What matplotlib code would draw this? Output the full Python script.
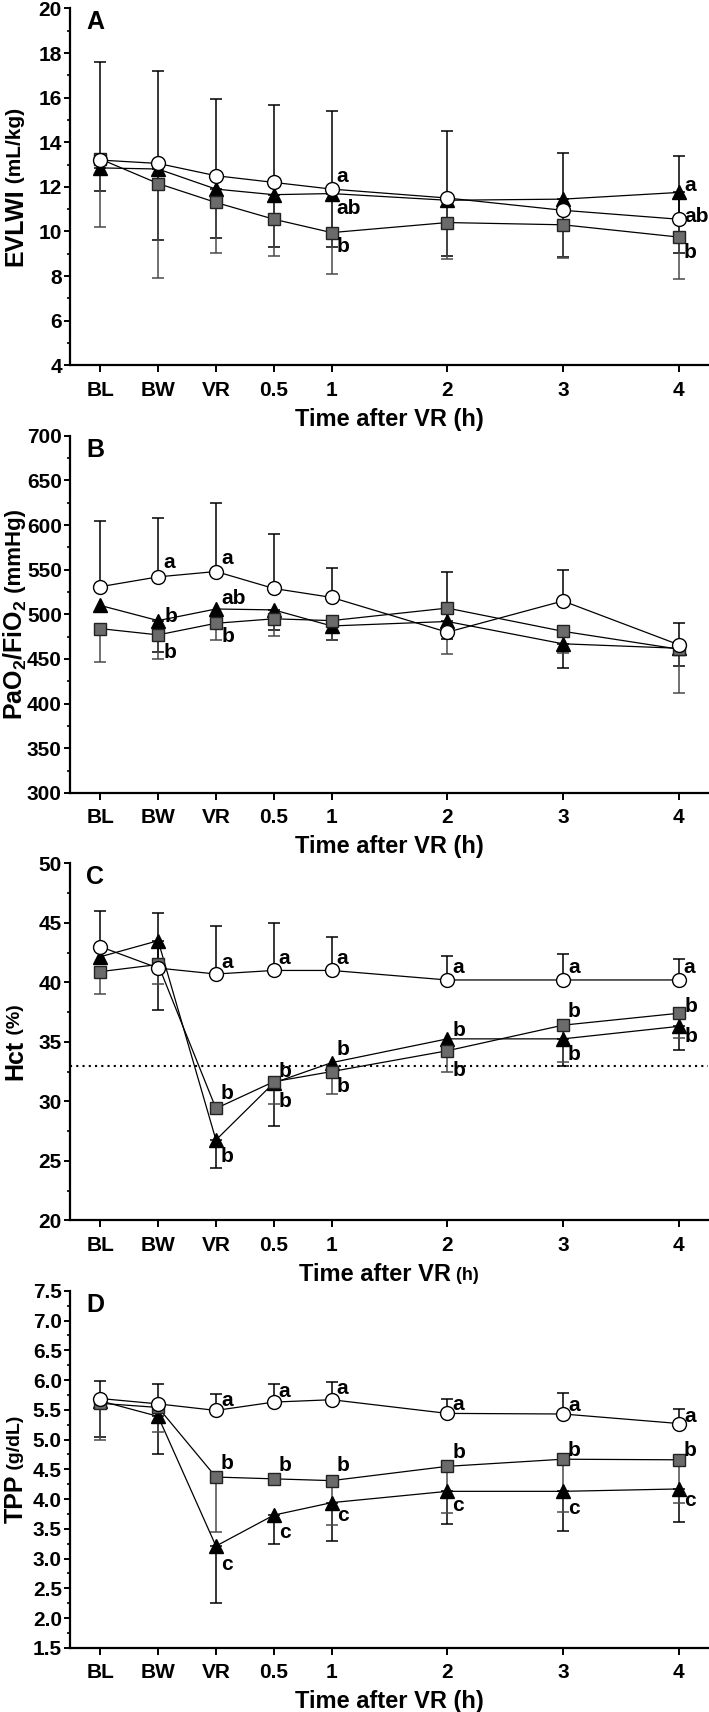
import matplotlib
matplotlib.use('Agg')
import matplotlib.pyplot as plt
import numpy as np
from matplotlib.ticker import MultipleLocator, FormatStrFormatter

nan = np.nan

# ---------------- data ----------------
time_labels = ['BL', 'BW', 'VR', '0.5', '1', '2', '3', '4']
time_pos = [0, 1, 2, 3, 4, 6, 8, 10]

# Panel A: EVLWI (mL/kg)
evlwi_circle = [13.2, 13.05, 12.5, 12.2, 11.9, 11.5, 10.95, 10.55]
evlwi_circle_sd_up = [4.4, 4.15, 3.45, 3.45, 3.5, 3.0, 2.55, 2.85]
evlwi_triangle = [12.85, 12.8, 11.9, 11.65, 11.7, 11.4, 11.45, 11.75]
evlwi_triangle_sd_down = [1.05, 3.2, 2.2, 2.35, 2.4, 2.5, 2.6, 2.7]
evlwi_square = [13.25, 12.15, 11.3, 10.55, 9.95, 10.4, 10.3, 9.75]
evlwi_square_sd_down = [3.05, 4.25, 2.25, 1.65, 1.85, 1.65, 1.5, 1.9]

# Panel B: PaO2/FiO2 (mmHg)
pf_circle = [531, 542, 548, 529, 519, 480, 515, 466]
pf_circle_sd_up = [74, 66, 77, 61, 33, 67, 35, 24]
pf_triangle = [510, 493, 506, 505, 487, 492, 467, 462]
pf_triangle_sd_down = [nan, 35, nan, 23, 16, 20, 27, 20]
pf_square = [484, 477, 490, 495, 493, 507, 481, 461]
pf_square_sd_down = [37, 27, 19, 19, 22, 51, 24, 49]

# Panel C: Hct (%)
hct_circle = [43.0, 41.2, 40.7, 41.0, 41.0, 40.2, 40.2, 40.2]
hct_circle_sd_up = [3.0, 4.65, 4.05, 4.0, 2.85, 2.0, 2.15, 1.8]
hct_triangle = [42.15, 43.5, 26.75, 31.55, 33.25, 35.25, 35.25, 36.3]
hct_triangle_sd_down = [nan, 5.8, 2.35, 3.6, nan, nan, 2.25, 1.95]
hct_square = [40.9, 41.5, 29.4, 31.65, 32.5, 34.25, 36.4, 37.4]
hct_square_sd_down = [1.9, 1.65, nan, 1.85, 1.9, 1.75, 3.1, 2.05]
hct_reference = 33

# Panel D: TPP (g/dL)
tpp_circle = [5.69, 5.60, 5.49, 5.63, 5.67, 5.44, 5.43, 5.27]
tpp_circle_sd_up = [0.30, 0.33, 0.28, 0.30, 0.30, 0.25, 0.35, 0.24]
tpp_triangle = [5.65, 5.39, 3.21, 3.73, 3.94, 4.13, 4.13, 4.17]
tpp_triangle_sd_down = [0.61, 0.64, 0.96, 0.48, 0.65, 0.55, 0.66, 0.55]
tpp_square = [5.61, 5.54, 4.37, 4.34, 4.31, 4.55, 4.67, 4.66]
tpp_square_sd_down = [0.62, 0.42, 0.92, nan, 0.75, 0.79, 0.88, 0.73]

# significance letters: (group, time index, text, dx px, dy px)
letters_A = [('circle', 4, 'a', 5, 13), ('triangle', 4, 'ab', 5, -15), ('square', 4, 'b', 5, -14),
             ('triangle', 7, 'a', 6, 7), ('circle', 7, 'ab', 6, 3), ('square', 7, 'b', 5, -15)]
letters_B = [('circle', 1, 'a', 5, 14), ('triangle', 1, 'b', 6, 4), ('square', 1, 'b', 5, -18),
             ('circle', 2, 'a', 5, 13), ('triangle', 2, 'ab', 5, 10), ('square', 2, 'b', 6, -13)]
letters_C = [('circle', i, 'a', 5, 12) for i in range(2, 8)] + [
    ('square', 2, 'b', 5, 15), ('triangle', 2, 'b', 5, -17),
    ('square', 3, 'b', 5, 10), ('triangle', 3, 'b', 5, -19),
    ('triangle', 4, 'b', 5, 13), ('square', 4, 'b', 5, -15),
    ('triangle', 5, 'b', 5, 8), ('square', 5, 'b', 5, -20),
    ('square', 6, 'b', 5, 14), ('triangle', 6, 'b', 5, -16),
    ('square', 7, 'b', 6, 7), ('triangle', 7, 'b', 6, -10)]
letters_D = [('circle', 2, 'a', 5, 10), ('circle', 3, 'a', 5, 11), ('circle', 4, 'a', 5, 11),
             ('circle', 5, 'a', 5, 9), ('circle', 6, 'a', 5, 8), ('circle', 7, 'a', 6, 7),
             ('square', 2, 'b', 5, 14), ('square', 3, 'b', 5, 13), ('square', 4, 'b', 5, 15),
             ('square', 5, 'b', 5, 14), ('square', 6, 'b', 5, 9), ('square', 7, 'b', 5, 9),
             ('triangle', 2, 'c', 5, -18), ('triangle', 3, 'c', 5, -17), ('triangle', 4, 'c', 5, -13),
             ('triangle', 5, 'c', 5, -14), ('triangle', 6, 'c', 5, -17), ('triangle', 7, 'c', 5, -12)]

# ---------------- style ----------------
FONT = 'Liberation Sans'
plt.rcParams['font.family'] = [FONT, 'DejaVu Sans']
plt.rcParams['font.weight'] = 'bold'
plt.rcParams['mathtext.fontset'] = 'custom'
plt.rcParams['mathtext.rm'] = FONT + ':bold'
plt.rcParams['mathtext.it'] = FONT + ':bold'
plt.rcParams['mathtext.bf'] = FONT + ':bold'

W, H = 709, 1712
fig = plt.figure(figsize=(W / 100, H / 100), dpi=100)

SQUARE_GRAY = '#6b6b6b'
styles = {
    'triangle': dict(marker='^', ms=9.5, mfc='black', mec='black', ecolor='black', z=3),
    'square': dict(marker='s', ms=9.0, mfc=SQUARE_GRAY, mec='#222222', ecolor='#4a4a4a', z=3.1),
    'circle': dict(marker='o', ms=10, mfc='white', mec='black', ecolor='black', z=3.2),
}

panels = [
    dict(letter='A', ylim=(4, 20), major=2, minor=1, fmt='%d',
         ylabel=('EVLWI', ' (mL/kg)'), ysizes=(18, 15),
         data={'circle': (evlwi_circle, evlwi_circle_sd_up, 'up'),
               'triangle': (evlwi_triangle, evlwi_triangle_sd_down, 'down'),
               'square': (evlwi_square, evlwi_square_sd_down, 'down')},
         letters=letters_A, hline=None, xunit_small=False),
    dict(letter='B', ylim=(300, 700), major=50, minor=25, fmt='%d',
         ylabel=(r'PaO$_\mathregular{2}$/FiO$_\mathregular{2}$', ' (mmHg)'), ysizes=(18, 16),
         data={'circle': (pf_circle, pf_circle_sd_up, 'up'),
               'triangle': (pf_triangle, pf_triangle_sd_down, 'down'),
               'square': (pf_square, pf_square_sd_down, 'down')},
         letters=letters_B, hline=None, xunit_small=False),
    dict(letter='C', ylim=(20, 50), major=5, minor=2.5, fmt='%d',
         ylabel=('Hct', ' (%)'), ysizes=(18, 14),
         data={'circle': (hct_circle, hct_circle_sd_up, 'up'),
               'triangle': (hct_triangle, hct_triangle_sd_down, 'down'),
               'square': (hct_square, hct_square_sd_down, 'down')},
         letters=letters_C, hline=hct_reference, xunit_small=True),
    dict(letter='D', ylim=(1.5, 7.5), major=0.5, minor=0.25, fmt='%.1f',
         ylabel=('TPP', ' (g/dL)'), ysizes=(18, 14),
         data={'circle': (tpp_circle, tpp_circle_sd_up, 'up'),
               'triangle': (tpp_triangle, tpp_triangle_sd_down, 'down'),
               'square': (tpp_square, tpp_square_sd_down, 'down')},
         letters=letters_D, hline=None, xunit_small=False),
]

AX_LEFT, AX_RIGHT = 0.099, 0.998
AX_H = 0.2085
bottoms = [0.7866, 0.5369, 0.2872, 0.0375]
YLABEL_X = 0.022

label_pairs = []
x = np.array(time_pos, dtype=float)

for p, b in zip(panels, bottoms):
    ax = fig.add_axes([AX_LEFT, b, AX_RIGHT - AX_LEFT, AX_H])
    ax.set_xlim(-0.52, 10.5)
    ax.set_ylim(*p['ylim'])
    for s in ['top', 'right']:
        ax.spines[s].set_visible(False)
    for s in ['left', 'bottom']:
        ax.spines[s].set_linewidth(1.6)
    ax.set_xticks(time_pos)
    ax.set_xticklabels(time_labels)
    ax.yaxis.set_major_locator(MultipleLocator(p['major']))
    ax.yaxis.set_minor_locator(MultipleLocator(p['minor']))
    ax.yaxis.set_major_formatter(FormatStrFormatter(p['fmt']))
    ax.tick_params(axis='x', length=5, width=1.4, pad=6, labelsize=15)
    ax.tick_params(axis='y', which='major', length=4, width=1.4, pad=2, labelsize=15)
    ax.tick_params(axis='y', which='minor', length=2.5, width=1.2)
    for lab in ax.get_xticklabels() + ax.get_yticklabels():
        lab.set_fontweight('bold')

    if p['hline'] is not None:
        ax.axhline(p['hline'], color='black', lw=1.5, ls=(0, (1, 2)), zorder=1)

    for g in ['triangle', 'square', 'circle']:
        vals, sd, direction = p['data'][g]
        st = styles[g]
        y = np.array(vals, dtype=float)
        e = np.array(sd, dtype=float)
        m = ~np.isnan(e)
        if direction == 'up':
            yerr = [np.zeros(m.sum()), e[m]]
        else:
            yerr = [e[m], np.zeros(m.sum())]
        ax.errorbar(x[m], y[m], yerr=yerr, fmt='none', ecolor=st['ecolor'],
                    elinewidth=1.1, capsize=4.5, capthick=1.1, zorder=1.5)
        ax.plot(x, y, color='black', lw=0.9, zorder=2)
        ax.plot(x, y, ls='none', marker=st['marker'], ms=st['ms'], mfc=st['mfc'],
                mec=st['mec'], mew=1.0, zorder=st['z'])

    for g, i, txt, dx, dy in p['letters']:
        yv = p['data'][g][0][i]
        ax.annotate(txt, xy=(time_pos[i], yv), xytext=(dx, dy), textcoords='offset pixels',
                    ha='left', va='center', fontsize=15, fontweight='bold', zorder=5)

    ax.text(0.025, 0.995, p['letter'], transform=ax.transAxes, ha='left', va='top',
            fontsize=18, fontweight='bold')

    # y label (main part + smaller unit)
    yc = b + AX_H / 2
    t1 = fig.text(YLABEL_X, yc, p['ylabel'][0], rotation=90, ha='center', va='center',
                  fontsize=p['ysizes'][0], fontweight='bold')
    t2 = fig.text(YLABEL_X, yc, p['ylabel'][1], rotation=90, ha='center', va='bottom',
                  fontsize=p['ysizes'][1], fontweight='bold')
    # x label
    xc = (AX_LEFT + AX_RIGHT) / 2
    xy_ = b - 54 / H
    if p['xunit_small']:
        x1 = fig.text(xc, xy_, 'Time after VR', ha='right', va='center', fontsize=17, fontweight='bold')
        x2 = fig.text(xc, xy_, ' (h)', ha='left', va='center', fontsize=13, fontweight='bold')
    else:
        x1 = fig.text(xc, xy_, 'Time after VR (h)', ha='center', va='center', fontsize=17, fontweight='bold')
        x2 = None
    label_pairs.append((t1, t2, yc, x1, x2, xc, xy_))

# center the composite labels
fig.canvas.draw()
r = fig.canvas.get_renderer()
for t1, t2, yc, x1, x2, xc, xy_ in label_pairs:
    e1 = t1.get_window_extent(r)
    e2 = t2.get_window_extent(r)
    h1, h2 = e1.height, e2.height
    total = h1 + h2
    y0 = yc * H - total / 2
    t1.set_position((YLABEL_X, (y0 + h1 / 2) / H))
    t2.set_position((YLABEL_X, (y0 + h1) / H))
    if x2 is not None:
        w1 = x1.get_window_extent(r).width
        w2 = x2.get_window_extent(r).width
        xs = xc * W - (w1 + w2) / 2
        x1.set_position(((xs + w1) / W, xy_))
        x2.set_position(((xs + w1) / W, xy_ - 1.5 / H))

fig.savefig('out.png', dpi=100)
